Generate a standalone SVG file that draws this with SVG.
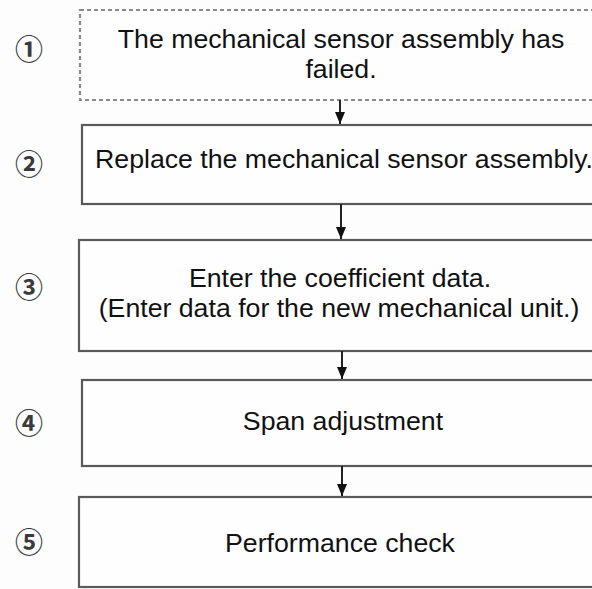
<svg xmlns="http://www.w3.org/2000/svg" width="592" height="589" viewBox="0 0 592 589">
<style>
.box{fill:#fefefe;stroke:#5a5a5a;stroke-width:2.2}
.dash{fill:#fefefe;stroke:#8a8a8a;stroke-width:2.2;stroke-dasharray:4 3}
.t{font-family:"Liberation Sans",Arial,sans-serif;font-size:26.7px;fill:#111;text-anchor:middle}
.n{font-family:"Noto Sans CJK JP","DejaVu Sans",sans-serif;font-size:28px;font-weight:bold;fill:#3a3a3a;text-anchor:middle}
.c{stroke:#222;stroke-width:2;fill:none}
</style>
<defs>
<marker id="ah" markerWidth="12" markerHeight="10" refX="12" refY="5" orient="auto" markerUnits="userSpaceOnUse">
<path d="M0,0 L12,5 L0,10 Z" fill="#111"/>
</marker>
</defs>
<rect width="592" height="589" fill="#fdfdfd"/>
<g id="step1">
<rect class="dash" x="80" y="10" width="530" height="90"/>
<text class="n" x="29" y="60">①</text>
<text class="t" x="341" y="48">The mechanical sensor assembly has</text>
<text class="t" x="341" y="78">failed.</text>
</g>
<g id="step2">
<rect class="box" x="82" y="125" width="530" height="79"/>
<text class="n" x="29" y="175">②</text>
<text class="t" x="344" y="168">Replace the mechanical sensor assembly.</text>
</g>
<g id="step3">
<rect class="box" x="79" y="240" width="530" height="111"/>
<text class="n" x="29" y="298">③</text>
<text class="t" x="340" y="287">Enter the coefficient data.</text>
<text class="t" x="339" y="317">(Enter data for the new mechanical unit.)</text>
</g>
<g id="step4">
<rect class="box" x="82" y="380" width="530" height="86"/>
<text class="n" x="29" y="434">④</text>
<text class="t" x="343" y="430">Span adjustment</text>
</g>
<g id="step5">
<rect class="box" x="79" y="497" width="530" height="90"/>
<text class="n" x="29" y="553">⑤</text>
<text class="t" x="340" y="552">Performance check</text>
</g>
<g id="connectors">
<line class="c" x1="340" y1="100" x2="340" y2="124" marker-end="url(#ah)"/>
<line class="c" x1="341" y1="204" x2="341" y2="239" marker-end="url(#ah)"/>
<line class="c" x1="342" y1="351" x2="342" y2="379" marker-end="url(#ah)"/>
<line class="c" x1="342" y1="466" x2="342" y2="496" marker-end="url(#ah)"/>
</g>
</svg>
